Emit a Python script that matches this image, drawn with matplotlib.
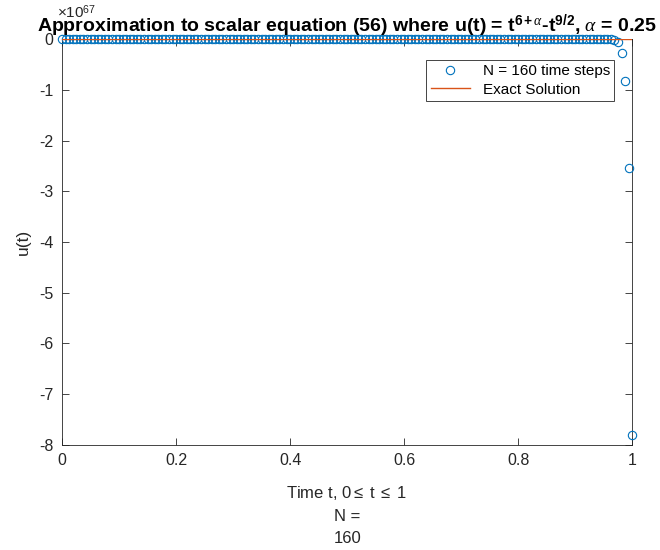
import numpy as np
import matplotlib
matplotlib.use('Agg')
import matplotlib.pyplot as plt

plt.rcParams['font.family'] = ['Liberation Sans', 'DejaVu Sans']
plt.rcParams['mathtext.fontset'] = 'custom'
plt.rcParams['mathtext.rm'] = 'Liberation Sans'
plt.rcParams['mathtext.it'] = 'Liberation Serif:italic'
plt.rcParams['mathtext.bf'] = 'Liberation Sans:bold'
plt.rcParams['axes.unicode_minus'] = False

# time grid, N = 160 steps
N = 160
t = np.linspace(0, 1, N + 1)

# approximate solution (units of 1e67): flat at 0, blows up in the last steps
tail = [-0.002, -0.006, -0.02, -0.06, -0.28, -0.83, -2.55, -7.8]
approx = np.array([0.0] * (N + 1 - len(tail)) + tail) * 1e67
exact = np.zeros(N + 1)
scale = 1e67

blue = '#0072BD'
orange = '#D95319'

fig = plt.figure(figsize=(6.6, 5.5), dpi=100)
ax = fig.add_axes([0.094, 0.191, 0.864, 0.738])

ax.plot(t, approx / scale, 'o', mfc='none', mec=blue, ms=6, mew=0.8,
        label='N = 160 time steps', clip_on=False, zorder=3)
ax.plot(t, exact / scale, '-', color=orange, lw=1.0, label='Exact Solution', zorder=4)

ax.set_xlim(0, 1)
ax.set_ylim(-8, 0)
ax.set_xticks([0, 0.2, 0.4, 0.6, 0.8, 1])
ax.set_xticklabels(['0', '0.2', '0.4', '0.6', '0.8', '1'])
ax.set_yticks(range(-8, 1))
ax.tick_params(direction='in', length=5, width=0.6, labelsize=11.5,
               top=True, right=True, colors='#262626', pad=6)
for s in ax.spines.values():
    s.set_color('#262626')
    s.set_linewidth(0.6)

ax.set_xlabel('Time t, 0$\\leq$ t $\\leq$ 1\nN =\n160', fontsize=12, color='#262626',
              linespacing=1.6, labelpad=11)
ax.set_ylabel('u(t)', fontsize=12.5, color='#262626', labelpad=6)

# exponent label, partly hidden under the title as in the original
fig.text(0.086, 0.978, '$\\times$10$^{67}$', fontsize=11, color='#262626',
         ha='left', va='center', zorder=0)
ax.set_title('Approximation to scalar equation (56) where u(t) = t$^{\\mathbf{6+}\\alpha}$-t$^{\\mathbf{9/2}}$, $\\alpha$ = 0.25',
             fontsize=14, fontweight='bold', pad=5)

leg = ax.legend(loc='upper right', bbox_to_anchor=(0.982, 0.968), fontsize=11,
                frameon=True, fancybox=False, edgecolor='#262626', framealpha=1,
                handlelength=2.6, borderpad=0.3, labelspacing=0.3)
leg.get_frame().set_linewidth(0.6)

fig.savefig('out.png', dpi=100)
